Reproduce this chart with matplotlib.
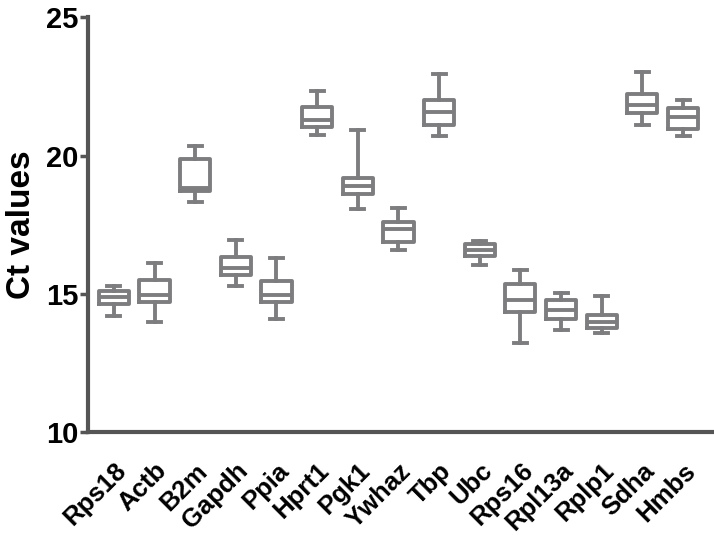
import matplotlib.pyplot as plt

plt.rcParams['font.family'] = ['Liberation Sans', 'DejaVu Sans']

genes = ["Rps18", "Actb", "B2m", "Gapdh", "Ppia", "Hprt1", "Pgk1", "Ywhaz",
         "Tbp", "Ubc", "Rps16", "Rpl13a", "Rplp1", "Sdha", "Hmbs"]
whislo = [14.20, 13.99, 18.32, 15.28, 14.11, 20.73, 18.08, 16.60,
          20.70, 16.04, 13.23, 13.71, 13.59, 21.09, 20.70]
q1     = [14.65, 14.71, 18.72, 15.67, 14.71, 21.03, 18.60, 16.88,
          21.09, 16.36, 14.35, 14.11, 13.75, 21.52, 20.94]
med    = [14.88, 14.95, 18.81, 15.92, 14.95, 21.28, 18.89, 17.36,
          21.58, 16.58, 14.77, 14.41, 13.97, 21.82, 21.40]
q3     = [15.12, 15.49, 19.89, 16.34, 15.47, 21.76, 19.20, 17.60,
          22.00, 16.79, 15.34, 14.77, 14.23, 22.24, 21.70]
whishi = [15.30, 16.12, 20.34, 16.94, 16.29, 22.32, 20.91, 18.12,
          22.94, 16.90, 15.85, 15.03, 14.93, 23.02, 22.00]

stats = [dict(label=g, whislo=a, q1=b, med=c, q3=d, whishi=e)
         for g, a, b, c, d, e in zip(genes, whislo, q1, med, q3, whishi)]

grey = "#7d7d80"
lw = 2.8

fig = plt.figure(figsize=(7.14, 5.35), dpi=100)
ax = fig.add_axes([0.123, 0.192, 0.877, 0.776])

bp = ax.bxp(stats, positions=range(1, len(genes) + 1), widths=0.74,
            showfliers=False, capwidths=0.32,
            boxprops=dict(color=grey, linewidth=lw),
            medianprops=dict(color=grey, linewidth=lw),
            whiskerprops=dict(color=grey, linewidth=lw),
            capprops=dict(color=grey, linewidth=lw))
for b in bp["boxes"]:
    b.set_solid_joinstyle("round")

ax.set_xlim(0.36, 15.76)
ax.set_ylim(10, 25)
ax.set_yticks([10, 15, 20, 25])
ax.tick_params(axis="y", length=6, width=2.5, color="#555555",
               labelsize=21, pad=1)
for t in ax.get_yticklabels():
    t.set_fontweight("bold")
ax.tick_params(axis="x", length=0, pad=19)
ax.set_xticks(range(1, len(genes) + 1))
ax.set_xticklabels(genes, rotation=45, ha="right", rotation_mode="anchor",
                   fontsize=18.5, fontweight="bold")

for s in ["top", "right"]:
    ax.spines[s].set_visible(False)
for s in ["left", "bottom"]:
    ax.spines[s].set_linewidth(3)
    ax.spines[s].set_color("#555555")

ax.set_ylabel("Ct values", fontsize=24, fontweight="bold", labelpad=6)

fig.savefig("out.png", dpi=100)
